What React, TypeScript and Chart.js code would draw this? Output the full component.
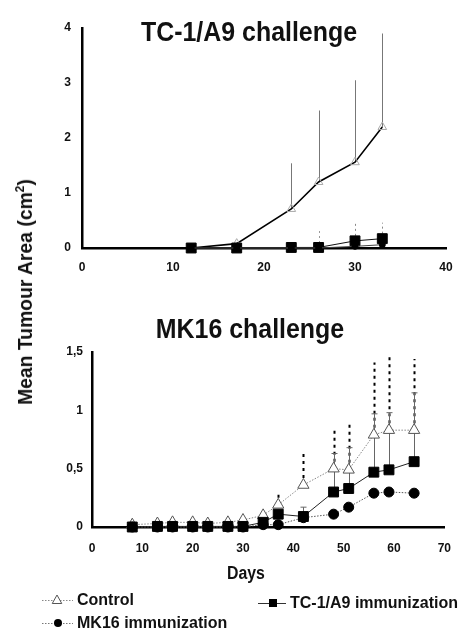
import React, { useEffect, useRef } from 'react';
import { Chart, registerables } from 'chart.js';

Chart.register(...registerables);

const FONT = "'Liberation Sans', Arial, Helvetica, sans-serif";

// ---------- Top panel: TC-1/A9 challenge ----------
const topTitle = 'TC-1/A9 challenge';
const topDays = [12, 17, 23, 26, 30, 33];
const topControl = [0, 0.08, 0.71, 1.2, 1.56, 2.2];
const topTc = [0, 0, 0.01, 0.01, 0.13, 0.17];
const topMk = [0, 0, 0, 0, 0.03, 0.06];
const topControlUpper = [null, null, 1.54, 2.5, 3.05, 3.9];
const topTcUpper = [null, null, null, null, 0.45, 0.46];
const topMkUpper = [null, null, null, 0.31, null, null];
const topXTicks = [0, 10, 20, 30, 40];
const topYTicks = [0, 1, 2, 3, 4];

// ---------- Bottom panel: MK16 challenge ----------
const botTitle = 'MK16 challenge';
const botDays = [8, 13, 16, 20, 23, 27, 30, 34, 37, 42, 48, 51, 56, 59, 64];
const botControl = [0.02, 0.03, 0.04, 0.04, 0.03, 0.04, 0.06, 0.1, 0.19, 0.36, 0.5, 0.49, 0.79, 0.83, 0.83];
const botTc = [0, 0.005, 0.005, 0.005, 0.005, 0.005, 0.005, 0.04, 0.11, 0.09, 0.3, 0.33, 0.47, 0.49, 0.56];
const botMk = [0, 0, 0, 0, 0, 0, 0, 0.02, 0.02, 0.08, 0.11, 0.17, 0.29, 0.3, 0.29];
const botControlUpper = [null, null, null, null, null, null, 0.1, 0.16, 0.3, 0.63, 0.86, 0.91, 1.41, 1.46, 1.44];
const botTcUpper = [null, null, null, null, null, null, null, null, null, 0.17, 0.63, 0.68, 0.97, 0.98, 1.15];
const botXTicks = [0, 10, 20, 30, 40, 50, 60, 70];
const botYTicks = [0, 0.5, 1, 1.5];

const xTitle = 'Days';
const yTitle = 'Mean Tumour Area (cm';
const legendLabels = ['Control', 'TC-1/A9 immunization', 'MK16 immunization'];

type Bar = { days: number[]; base: number[]; upper: (number | null)[]; color: string; width: number; dash: number[]; cap: number };

function errorBars(bars: Bar[]) {
  return {
    id: 'errorBarsLocal',
    beforeDatasetsDraw(chart: any) {
      const { ctx, scales } = chart;
      const x = scales.x;
      const y = scales.y;
      bars.forEach((b) => {
        ctx.save();
        ctx.strokeStyle = b.color;
        ctx.lineWidth = b.width;
        b.days.forEach((d, i) => {
          const u = b.upper[i];
          if (u == null) return;
          const px = Math.round(x.getPixelForValue(d)) + 0.5;
          const y0 = y.getPixelForValue(b.base[i]);
          const y1 = y.getPixelForValue(u);
          ctx.setLineDash(b.dash);
          ctx.beginPath();
          ctx.moveTo(px, y0);
          ctx.lineTo(px, y1);
          ctx.stroke();
          if (b.cap) {
            ctx.setLineDash([]);
            ctx.beginPath();
            ctx.moveTo(px - b.cap, y1);
            ctx.lineTo(px + b.cap, y1);
            ctx.stroke();
          }
        });
        ctx.restore();
      });
    },
  };
}

function drawScaledText(ctx: any, text: string, cx: number, baseY: number, size: number, sx: number) {
  ctx.save();
  ctx.font = `bold ${size}px ${FONT}`;
  ctx.fillStyle = '#111';
  ctx.textAlign = 'center';
  ctx.textBaseline = 'alphabetic';
  ctx.translate(cx, baseY);
  ctx.scale(sx, 1);
  ctx.fillText(text, 0, 0);
  ctx.restore();
}

function titlePlugin(text: string, cx: number, baseY: number) {
  return {
    id: 'panelTitle',
    afterDraw(chart: any) {
      drawScaledText(chart.ctx, text, cx, baseY, 28, 0.89);
    },
  };
}

function drawMarker(ctx: any, kind: string, x: number, y: number) {
  ctx.save();
  ctx.setLineDash([]);
  if (kind === 'tri') {
    const r = 5;
    ctx.beginPath();
    ctx.moveTo(x, y - r);
    ctx.lineTo(x + r * 0.95, y + r * 0.7);
    ctx.lineTo(x - r * 0.95, y + r * 0.7);
    ctx.closePath();
    ctx.fillStyle = '#fff';
    ctx.fill();
    ctx.strokeStyle = '#555';
    ctx.lineWidth = 1;
    ctx.stroke();
  } else if (kind === 'sq') {
    ctx.fillStyle = '#000';
    ctx.fillRect(x - 4, y - 4, 8, 8);
  } else {
    ctx.fillStyle = '#000';
    ctx.beginPath();
    ctx.arc(x, y, 4, 0, Math.PI * 2);
    ctx.fill();
  }
  ctx.restore();
}

const bottomExtras = {
  id: 'bottomExtras',
  afterDraw(chart: any) {
    const ctx = chart.ctx;
    // x axis title
    drawScaledText(ctx, xTitle, 246, 289, 18, 0.88);
    // legend
    const items = [
      { label: legendLabels[0], kind: 'tri', x0: 42, x1: 73, mx: 57, tx: 77, y: 310, color: '#888', dash: [1.5, 1.5] },
      { label: legendLabels[1], kind: 'sq', x0: 258, x1: 286, mx: 273, tx: 290, y: 313, color: '#333', dash: [] },
      { label: legendLabels[2], kind: 'ci', x0: 42, x1: 73, mx: 58, tx: 77, y: 333, color: '#777', dash: [1.5, 1.5] },
    ];
    items.forEach((it) => {
      ctx.save();
      ctx.strokeStyle = it.color;
      ctx.lineWidth = 1;
      ctx.setLineDash(it.dash);
      ctx.beginPath();
      ctx.moveTo(it.x0, it.y + 0.5);
      ctx.lineTo(it.x1, it.y + 0.5);
      ctx.stroke();
      ctx.restore();
      drawMarker(ctx, it.kind, it.mx, it.y);
      ctx.save();
      ctx.font = `bold 16px ${FONT}`;
      ctx.fillStyle = '#111';
      ctx.textAlign = 'left';
      ctx.textBaseline = 'middle';
      ctx.fillText(it.label, it.tx, it.y + 1);
      ctx.restore();
    });
  },
};

function pts(days: number[], vals: number[]) {
  return days.map((d, i) => ({ x: d, y: vals[i] }));
}

function axisOpts(min: number, max: number, step: number, size: number, pad: number, fmt?: (v: number) => string, fit?: (s: any) => void) {
  return {
    type: 'linear' as const,
    min,
    max,
    ticks: {
      stepSize: step,
      color: '#111',
      padding: pad,
      font: { family: FONT, size, weight: 'bold' as const },
      callback: fmt ? (v: any) => fmt(Number(v)) : (v: any) => String(v),
    },
    grid: { display: false, drawTicks: false },
    border: { display: true, color: '#000', width: 2.5 },
    afterFit: fit,
  };
}

export default function App() {
  const topRef = useRef<HTMLCanvasElement | null>(null);
  const botRef = useRef<HTMLCanvasElement | null>(null);

  useEffect(() => {
    const top = new Chart(topRef.current as HTMLCanvasElement, {
      type: 'line',
      data: {
        datasets: [
          {
            label: legendLabels[2],
            data: pts(topDays, topMk),
            borderColor: '#444',
            borderWidth: 1,
            pointStyle: 'circle',
            pointRadius: 3,
            pointBackgroundColor: '#000',
            pointBorderColor: '#000',
          },
          {
            label: legendLabels[1],
            data: pts(topDays, topTc),
            borderColor: '#111',
            borderWidth: 1,
            pointStyle: 'rect',
            pointRadius: 7,
            pointBackgroundColor: '#000',
            pointBorderColor: '#000',
          },
          {
            label: legendLabels[0],
            data: pts(topDays, topControl),
            borderColor: '#000',
            borderWidth: 1.6,
            pointStyle: 'triangle',
            pointRadius: 5,
            pointBackgroundColor: 'rgba(0,0,0,0)',
            pointBorderColor: '#aaa',
            pointBorderWidth: 1,
          },
        ],
      },
      options: {
        responsive: false,
        animation: false,
        clip: false as any,
        layout: { padding: { top: 28, right: 19, left: 0, bottom: 0 } },
        plugins: { legend: { display: false }, tooltip: { enabled: false }, title: { display: false } },
        elements: { line: { tension: 0 } },
        scales: {
          x: {
            ...axisOpts(topXTicks[0], topXTicks[topXTicks.length - 1], 10, 12, 12, undefined, (s: any) => { s.height = 42; }),
          },
          y: {
            ...axisOpts(topYTicks[0], topYTicks[topYTicks.length - 1], 1, 12, 11, undefined, (s: any) => { s.width = 82; }),
          },
        },
      } as any,
      plugins: [
        errorBars([
          { days: topDays, base: topControl, upper: topControlUpper, color: '#777', width: 1, dash: [], cap: 0 },
          { days: topDays, base: topTc, upper: topTcUpper, color: '#888', width: 1, dash: [2, 3], cap: 0 },
          { days: topDays, base: topMk, upper: topMkUpper, color: '#999', width: 1, dash: [2, 3], cap: 0 },
        ]),
        titlePlugin(topTitle, 249, 41),
      ],
    });

    const bot = new Chart(botRef.current as HTMLCanvasElement, {
      type: 'line',
      data: {
        datasets: [
          {
            label: legendLabels[2],
            data: pts(botDays, botMk),
            borderColor: '#555',
            borderWidth: 1,
            borderDash: [1.5, 1.5],
            pointStyle: 'circle',
            pointRadius: 5,
            pointBackgroundColor: '#000',
            pointBorderColor: '#000',
          },
          {
            label: legendLabels[1],
            data: pts(botDays, botTc),
            borderColor: '#222',
            borderWidth: 1,
            pointStyle: 'rect',
            pointRadius: 7,
            pointBackgroundColor: '#000',
            pointBorderColor: '#000',
          },
          {
            label: legendLabels[0],
            data: pts(botDays, botControl),
            borderColor: '#888',
            borderWidth: 1,
            borderDash: [1.5, 1.5],
            pointStyle: 'triangle',
            pointRadius: 6.5,
            pointBackgroundColor: '#fff',
            pointBorderColor: '#555',
            pointBorderWidth: 1,
          },
        ],
      },
      options: {
        responsive: false,
        animation: false,
        clip: false as any,
        layout: { padding: { top: 62, right: 5, left: 0, bottom: 60 } },
        plugins: { legend: { display: false }, tooltip: { enabled: false }, title: { display: false } },
        elements: { line: { tension: 0 } },
        scales: {
          x: {
            ...axisOpts(botXTicks[0], botXTicks[botXTicks.length - 1], 10, 12, 14, undefined, (s: any) => { s.height = 43; }),
          },
          y: {
            ...axisOpts(botYTicks[0], botYTicks[botYTicks.length - 1], 0.5, 12, 9, (v) => String(v).replace('.', ','), (s: any) => { s.width = 92; }),
          },
        },
      } as any,
      plugins: [
        errorBars([
          { days: botDays, base: botControl, upper: botControlUpper, color: '#000', width: 2, dash: [3, 4], cap: 0 },
          { days: botDays, base: botTc, upper: botTcUpper, color: '#666', width: 1, dash: [], cap: 3 },
        ]),
        titlePlugin(botTitle, 250, 48),
        bottomExtras,
      ],
    });

    return () => {
      top.destroy();
      bot.destroy();
    };
  }, []);

  return (
    <div style={{ position: 'absolute', left: 0, top: 0, width: 465, height: 630, background: '#fff', overflow: 'hidden' }}>
      <canvas ref={topRef} width={465} height={290} style={{ position: 'absolute', left: 0, top: 0, display: 'block' }} />
      <canvas ref={botRef} width={465} height={340} style={{ position: 'absolute', left: 0, top: 290, display: 'block' }} />
      <div
        style={{
          position: 'absolute',
          left: 25,
          top: 292,
          transform: 'translate(-50%, -50%) rotate(-90deg) scaleX(0.92)',
          whiteSpace: 'nowrap',
          font: `bold 21px ${FONT}`,
          color: '#111',
          lineHeight: '24px',
        }}
      >
        {yTitle}
        <span style={{ fontSize: '0.62em', verticalAlign: '0.6em', lineHeight: 0 }}>2</span>)
      </div>
    </div>
  );
}
